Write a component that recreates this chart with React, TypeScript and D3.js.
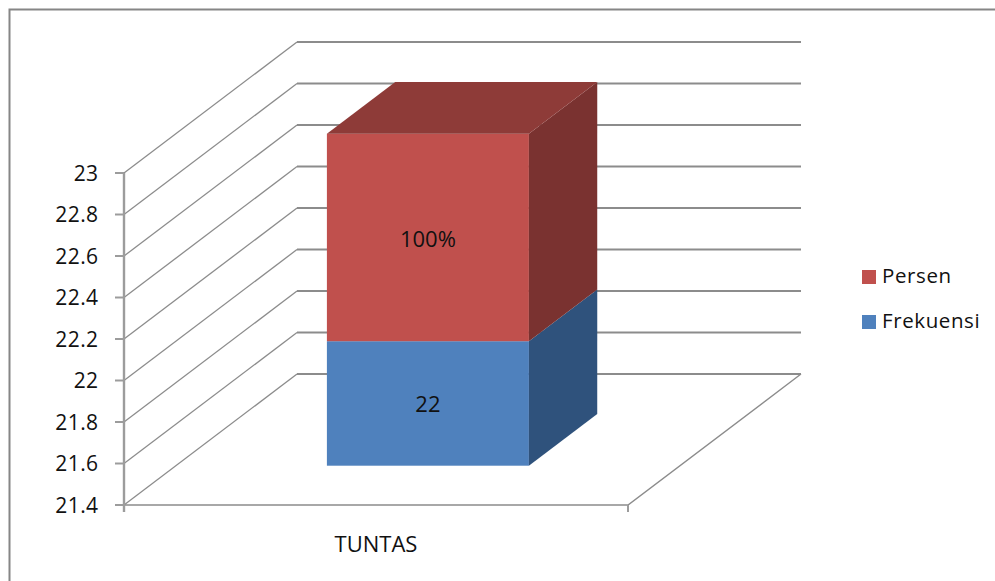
import React from "react";
import * as d3 from "d3";

const categories = ["TUNTAS"];
const seriesNames = ["Frekuensi", "Persen"];
const frekuensi = [22];
const persen = [1];
const persenLabels = ["100%"];
const yTicks = [21.4, 21.6, 21.8, 22, 22.2, 22.4, 22.6, 22.8, 23];
const baseline = 21.4;

const colors: Record<string, { front: string; side: string; top: string }> = {
  Frekuensi: { front: "#4F81BD", side: "#2F527C", top: "#3A5F8C" },
  Persen: { front: "#C0504D", side: "#7A3230", top: "#8E3B38" },
};
const gridColor = "#8C8C8C";
const axisColor = "#9C9C9C";
const font = "'Open Sans', 'Noto Sans', sans-serif";

const W = 995;
const H = 581;

const y = d3.scaleLinear().domain([21.4, 23]).range([505, 173]);
const x = d3.scaleBand<string>().domain(categories).range([124, 628]).paddingInner(0).paddingOuter(0.7475);
const depthX = d3.scaleLinear().domain([0, 1]).range([0, 173]);
const depthY = d3.scaleLinear().domain([0, 1]).range([0, -131]);
const barDepth = [0.3, 0.695];

const poly = (pts: [number, number][]) => pts.map((p) => p.join(",")).join(" ");

export default function App() {
  const x0Plane = x.range()[0];
  const x1Plane = x.range()[1];
  const dx = depthX(1);
  const dy = depthY(1);

  const stacked = d3.stack<number>().keys(seriesNames).value((i, k) => (k === "Frekuensi" ? frekuensi[i] : persen[i]))(
    categories.map((_, i) => i)
  );

  const fx = depthX(barDepth[0]);
  const fy = depthY(barDepth[0]);
  const bx = depthX(barDepth[1]);
  const by = depthY(barDepth[1]);

  return (
    <svg
      width={W}
      height={H}
      viewBox={`0 0 ${W} ${H}`}
      style={{ position: "fixed", left: 0, top: 0, background: "#fff" }}
      fontFamily={font}
    >
      <path d={`M9.5 ${H} V9.5 H${W}`} fill="none" stroke="#868686" strokeWidth={2} />

      {yTicks.map((t) => (
        <g key={t}>
          <line
            x1={x0Plane}
            y1={y(t)}
            x2={x0Plane + dx}
            y2={y(t) + dy}
            stroke={gridColor}
            strokeWidth={1.3}
          />
          <line
            x1={x0Plane + dx}
            y1={y(t) + dy}
            x2={x1Plane + dx}
            y2={y(t) + dy}
            stroke={gridColor}
            strokeWidth={1.9}
          />
        </g>
      ))}
      <polyline
        points={poly([
          [x0Plane, y(baseline)],
          [x1Plane, y(baseline)],
          [x1Plane + dx, y(baseline) + dy],
        ])}
        fill="none"
        stroke={gridColor}
        strokeWidth={1.4}
      />
      <line x1={x0Plane} x2={x0Plane} y1={y(23)} y2={y(baseline) + 7} stroke={axisColor} strokeWidth={2.4} />
      <line x1={x1Plane} x2={x1Plane} y1={y(baseline)} y2={y(baseline) + 7} stroke={axisColor} strokeWidth={2} />
      {yTicks.map((t) => (
        <g key={t}>
          <line x1={x0Plane - 9} x2={x0Plane} y1={y(t)} y2={y(t)} stroke={axisColor} strokeWidth={2} />
          <text x={98.5} y={y(t) + 7.5} textAnchor="end" fontSize={21} letterSpacing={0.4} fill="#111">
            {t}
          </text>
        </g>
      ))}

      {categories.map((c, ci) => {
        const bl = x(c)! + fx;
        const br = bl + x.bandwidth();
        return (
          <g key={c}>
            {stacked.map((s) => {
              const col = colors[s.key];
              const lo = s[ci][0] === 0 ? baseline : s[ci][0];
              const hi = s[ci][1];
              const yTop = y(hi) + fy;
              const yBot = y(lo) + fy;
              const ddx = bx - fx;
              const ddy = by - fy;
              return (
                <g key={s.key}>
                  <rect x={bl} y={yTop} width={br - bl} height={yBot - yTop} fill={col.front} />
                  <polygon
                    points={poly([
                      [br, yTop],
                      [br + ddx, yTop + ddy],
                      [br + ddx, yBot + ddy],
                      [br, yBot],
                    ])}
                    fill={col.side}
                  />
                  {s.key === "Persen" && (
                    <polygon
                      points={poly([
                        [bl, yTop],
                        [bl + ddx, yTop + ddy],
                        [br + ddx, yTop + ddy],
                        [br, yTop],
                      ])}
                      fill={col.top}
                    />
                  )}
                  <text
                    x={(bl + br) / 2}
                    y={(yTop + yBot) / 2 + (s.key === "Persen" ? 10 : 9)}
                    textAnchor="middle"
                    fontSize={22}
                    fill="#111"
                  >
                    {s.key === "Persen" ? persenLabels[ci] : frekuensi[ci]}
                  </text>
                </g>
              );
            })}
            <text x={x(c)! + x.bandwidth() / 2} y={552} textAnchor="middle" fontSize={22} fill="#111">
              {c}
            </text>
          </g>
        );
      })}

      {["Persen", "Frekuensi"].map((name, i) => (
        <g key={name} transform={`translate(862,${270 + i * 45})`}>
          <rect width={14} height={14} fill={colors[name].front} />
          <text x={20} y={13} fontSize={20.5} fill="#111" letterSpacing={0.6}>
            {name}
          </text>
        </g>
      ))}
    </svg>
  );
}
